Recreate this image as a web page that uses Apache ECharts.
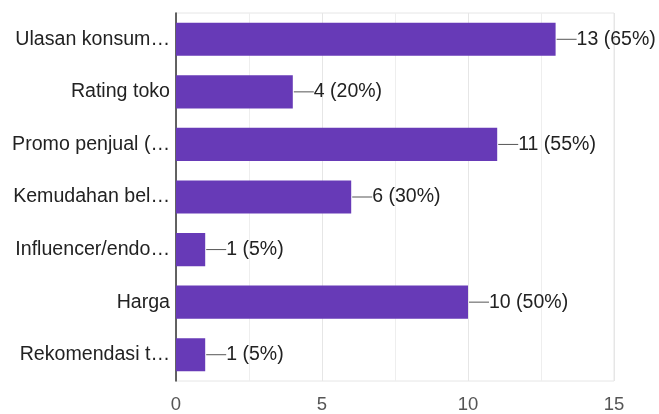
<!DOCTYPE html>
<html>
<head>
<meta charset="utf-8">
<script src="https://cdn.jsdelivr.net/npm/echarts@6/dist/echarts.min.js"></script>
<style>html,body{margin:0;padding:0;background:#fff;}#c{width:659px;height:414px;}</style>
</head>
<body>
<div id="c"></div>
<script>
const categories = ['Ulasan konsum…', 'Rating toko', 'Promo penjual (…', 'Kemudahan bel…', 'Influencer/endo…', 'Harga', 'Rekomendasi t…'];
const counts = [13, 4, 11, 6, 1, 10, 1];
const percents = [65, 20, 55, 30, 5, 50, 5];
const xTicks = [0, 5, 10, 15];

const chart = echarts.init(document.getElementById('c'), null, {renderer: 'canvas'});
const font = 'Arial, "Liberation Sans", sans-serif';
chart.setOption({
  animation: false,
  backgroundColor: '#ffffff',
  grid: {left: 176, right: 45, top: 13, bottom: 33, show: true, borderColor: '#e6e6e6', borderWidth: 1},
  xAxis: {
    type: 'value',
    min: xTicks[0],
    max: xTicks[xTicks.length - 1],
    interval: 5,
    axisLine: {show: false},
    axisTick: {show: false},
    axisLabel: {color: '#555', fontSize: 18.5, fontFamily: font, margin: 14},
    splitLine: {show: true, lineStyle: {color: '#e6e6e6', width: 1}},
    minorTick: {show: false, splitNumber: 2},
    minorSplitLine: {show: true, lineStyle: {color: '#eeeeee', width: 1}}
  },
  yAxis: {
    type: 'category',
    data: categories,
    inverse: true,
    axisLine: {show: true, lineStyle: {color: '#333', width: 1.5}},
    axisTick: {show: false},
    axisLabel: {color: '#222', fontSize: 19.6, fontFamily: font, margin: 6}
  },
  series: [{
    type: 'bar',
    data: counts,
    barWidth: '63%',
    itemStyle: {color: '#673ab7'},
    label: {
      show: true,
      position: 'right',
      distance: 1,
      color: '#222',
      fontSize: 19.5,
      fontFamily: font,
      formatter: function (p) {
        return '{l|}{t|' + p.value + ' (' + percents[p.dataIndex] + '%)}';
      },
      rich: {
        l: {width: 20, height: 1, backgroundColor: '#555'},
        t: {color: '#222', fontSize: 19.5, fontFamily: font}
      }
    }
  }]
});
</script>
</body>
</html>
